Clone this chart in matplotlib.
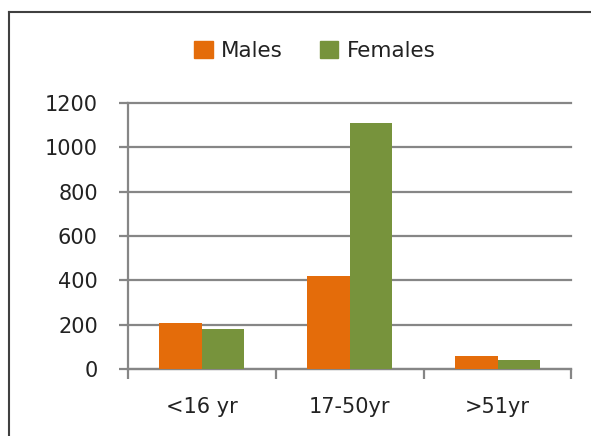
import numpy as np
import matplotlib.pyplot as plt
from matplotlib.patches import Patch
from matplotlib.lines import Line2D

groups = ["<16 yr", "17-50yr", ">51yr"]
males = [205, 420, 58]
females = [180, 1110, 40]
yticks = [0, 200, 400, 600, 800, 1000, 1200]

orange = "#E46C0A"
green = "#77933C"
grid_col = "#868686"

fig = plt.figure(figsize=(5.91, 4.36), dpi=100)
ax = fig.add_axes([0.216, 0.154, 0.751, 0.61])

x = np.arange(len(groups))
w = 0.2875
ax.bar(x - w/2, males, w, color=orange, zorder=3)
ax.bar(x + w/2, females, w, color=green, zorder=3)

ax.set_xlim(-0.5, 2.5)
ax.set_ylim(0, 1200)
ax.set_yticks(yticks)
ax.yaxis.grid(True, color=grid_col, linewidth=1.6, zorder=0)
for gl in ax.get_ygridlines():
    gl.set_clip_on(False)

ax.set_xticks(x)
ax.set_xticklabels(groups)
ax.set_xticks([-0.5, 0.5, 1.5, 2.5], minor=True)
ax.tick_params(axis="x", which="major", length=0, pad=20, labelsize=15, colors="#222222")
ax.tick_params(axis="x", which="minor", length=7, width=1.6, color=grid_col, direction="out")
ax.tick_params(axis="y", length=6.5, width=1.6, color=grid_col, pad=15, labelsize=15, labelcolor="#222222")

for s in ["top", "right"]:
    ax.spines[s].set_visible(False)
for s in ["left", "bottom"]:
    ax.spines[s].set_color(grid_col)
    ax.spines[s].set_linewidth(1.6)

handles = [Patch(color=orange, label="Males"), Patch(color=green, label="Females")]
fig.legend(handles=handles, loc="center", bbox_to_anchor=(315/591, 1 - 51/436), ncol=2,
           frameon=False, fontsize=15.5, handlelength=0.85, handleheight=0.85,
           handletextpad=0.4, columnspacing=1.7, labelcolor="#222222")

# outer chart frame (cut off at right and bottom)
fig.add_artist(Line2D([9/591, 9/591], [0, 1 - 12/436], color="#404040", linewidth=1.5, transform=fig.transFigure))
fig.add_artist(Line2D([9/591, 1], [1 - 12/436, 1 - 12/436], color="#404040", linewidth=1.5, transform=fig.transFigure))

fig.savefig("out.png", dpi=100)
